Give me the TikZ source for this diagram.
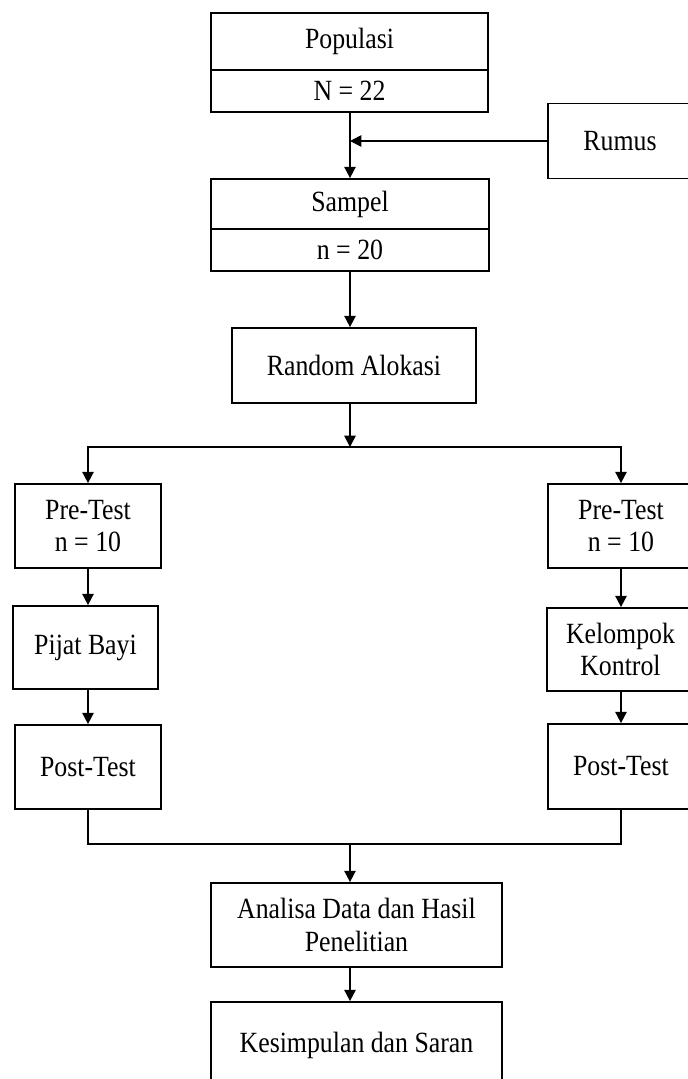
\documentclass[tikz,border=0pt]{standalone}
\usepackage{fontspec}
\setmainfont[FakeStretch=0.88]{Liberation Serif}
\usetikzlibrary{arrows.meta}

\tikzset{
  box/.style={draw, line width=1.3pt, rectangle, inner sep=2pt, align=center,
    font=\fontsize{22}{24.5}\selectfont, fill=white},
  conn/.style={line width=1.3pt},
  arr/.style={conn, -{Triangle[length=8.5pt,width=8.5pt]}},
}

\begin{document}
\begin{tikzpicture}[x=0.75pt, y=-0.75pt]
  \useasboundingbox (0,0) rectangle (688,1079);
  \clip (0,0) rectangle (688,1079);
  \fill[white] (0,0) rectangle (688,1079);

  % top: population and sample
  \node[box, minimum width=207.75pt, minimum height=42.75pt] (pop1) at (349.5,41.5) {Populasi};
  \node[box, minimum width=207.75pt, minimum height=31.5pt]  (pop2) at (349.5,91) {N = 22};
  \node[box, minimum width=108pt, minimum height=56.25pt]    (rumus) at (620,141) {Rumus};
  \node[box, minimum width=208.5pt, minimum height=37.5pt]   (sam1) at (350,204) {Sampel};
  \node[box, minimum width=208.5pt, minimum height=31.5pt]   (sam2) at (350,250) {n = 20};
  \node[box, minimum width=183pt, minimum height=56.25pt]    (rand) at (354,365.5) {Random Alokasi};

  % two groups
  \node[box, minimum width=109.5pt, minimum height=63pt]    (preL)  at (88,526) {Pre-Test\\n = 10};
  \node[box, minimum width=109.5pt, minimum height=63pt]    (preR)  at (621,526) {Pre-Test\\n = 10};
  \node[box, minimum width=108.75pt, minimum height=62.25pt] (pijat) at (85.5,647.5) {Pijat Bayi};
  \node[box, minimum width=110.25pt, minimum height=62.25pt] (kel)   at (620.5,649.5) {Kelompok\\Kontrol};
  \node[box, minimum width=109.5pt, minimum height=63pt]    (postL) at (88,767) {Post-Test};
  \node[box, minimum width=109.5pt, minimum height=63.75pt] (postR) at (621,766.5) {Post-Test};

  % analysis and conclusion
  \node[box, minimum width=218.25pt, minimum height=63pt]   (anal) at (356.5,925) {Analisa Data dan Hasil\\Penelitian};
  \node[box, minimum width=218.25pt, minimum height=64.5pt] (kes)  at (356.5,1045) {Kesimpulan dan Saran};

  \coordinate (split) at (350,447);
  \coordinate (merge) at (350,844);

  % connectors
  \draw[arr] (pop2.south -| sam1.north) -- (sam1.north);
  \draw[arr] (rumus.west) -- (rumus.west -| sam1.north);
  \draw[arr] (sam2.south) -- (sam2.south |- rand.north);
  \draw[arr] (rand.south -| split) -- (split);
  \draw[arr] (split) -| (preL.north);
  \draw[arr] (split) -| (preR.north);
  \draw[arr] (preL.south) -- (preL.south |- pijat.north);
  \draw[arr] (pijat.south -| preL.south) -- (postL.north);
  \draw[arr] (preR.south) -- (preR.south |- kel.north);
  \draw[arr] (kel.south -| preR.south) -- (postR.north);
  \draw[conn] (postL.south) |- (merge) -| (postR.south);
  \draw[arr] (merge) -- (merge |- anal.north);
  \draw[arr] (anal.south -| merge) -- (kes.north -| merge);
\end{tikzpicture}
\end{document}
